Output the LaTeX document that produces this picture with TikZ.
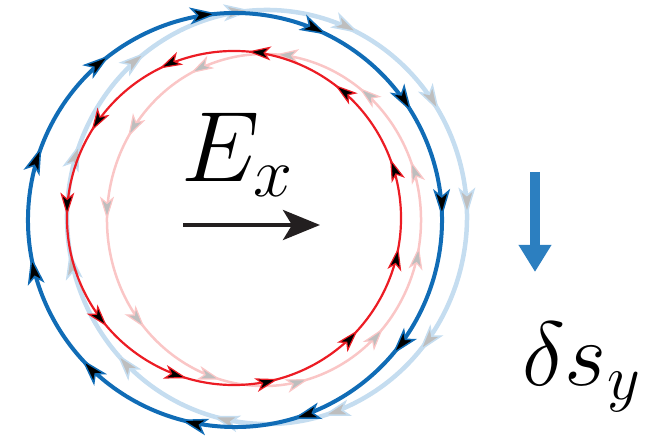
\RequirePackage{fix-cm}
\documentclass[tikz,border=0pt]{standalone}
\usetikzlibrary{decorations.markings, arrows.meta}
\definecolor{cblue}{RGB}{16,108,182}
\definecolor{cred}{RGB}{236,28,36}
\definecolor{lblue}{RGB}{197,221,240}
\definecolor{lred}{RGB}{250,198,198}
\definecolor{lgray}{RGB}{190,190,190}
\definecolor{sblue}{RGB}{44,127,192}
\definecolor{darkk}{RGB}{35,31,32}
\tikzset{
  headsat/.style={postaction={decorate}, decoration={markings,
    mark=at position 0.070 with {\arrow{#1}},
    mark=at position 0.157 with {\arrow{#1}},
    mark=at position 0.246 with {\arrow{#1}},
    mark=at position 0.331 with {\arrow{#1}},
    mark=at position 0.446 with {\arrow{#1}},
    mark=at position 0.538 with {\arrow{#1}},
    mark=at position 0.626 with {\arrow{#1}},
    mark=at position 0.716 with {\arrow{#1}},
    mark=at position 0.805 with {\arrow{#1}},
    mark=at position 0.891 with {\arrow{#1}},
    mark=at position 0.980 with {\arrow{#1}}}},
  blueloop/.style={cblue, line width=4pt,
    headsat={Stealth[length=28pt 0, width=17pt 0, inset=7pt 0, line width=1.5pt 0, fill=black]}},
  lblueloop/.style={lblue, line width=4.5pt,
    headsat={Stealth[length=28pt 0, width=17pt 0, inset=7pt 0, line width=1.5pt 0, fill=lgray]}},
  redloop/.style={cred, line width=2.2pt,
    headsat={Stealth[length=23pt 0, width=14pt 0, inset=6pt 0, line width=1.2pt 0, fill=black]}},
  lredloop/.style={lred, line width=2.5pt,
    headsat={Stealth[length=23pt 0, width=14pt 0, inset=6pt 0, line width=1.2pt 0, fill=lgray]}},
  big/.style={inner sep=0pt, font=\fontsize{100}{100}\selectfont}
}
\begin{document}
\begin{tikzpicture}[x=1pt, y=-1pt]
\useasboundingbox (0,0) rectangle (662,438);
% centres
\coordinate (cb) at (235,220);
\coordinate (clb) at (267,217);
\coordinate (cr) at (234,218);
\coordinate (clr) at (264,220);
% pale (shifted) loops
\draw[lblueloop] (clb) ++(-120:200 and 207) arc[start angle=-120, end angle=240, x radius=200, y radius=207];
\draw[lredloop] (clr) ++(-60:157 and 166) arc[start angle=-60, end angle=-420, x radius=157, y radius=166];
% solid loops
\draw[blueloop] (cb) ++(-120:207) arc[start angle=-120, end angle=240, radius=207];
\draw[redloop] (cr) ++(-60:167) arc[start angle=-60, end angle=-420, radius=167];
% E field
\node[big, anchor=base west] (ex) at (181,182) {$E_x$};
\coordinate (ea) at (183,225);
\coordinate (eb) at (320,225);
\draw[darkk, line width=4pt, -{Stealth[length=37pt, width=30pt, inset=9pt]}] (ea) -- (eb);
% spin shift
\coordinate (sa) at (535,172);
\coordinate (sb) at (535,272);
\draw[sblue, line width=10pt, -{Triangle[length=27pt, width=31pt]}] (sa) -- (sb);
\node[big, anchor=base west, font=\fontsize{91}{91}\selectfont] (ds) at (522,386) {$\delta s_y$};
\end{tikzpicture}
\end{document}
